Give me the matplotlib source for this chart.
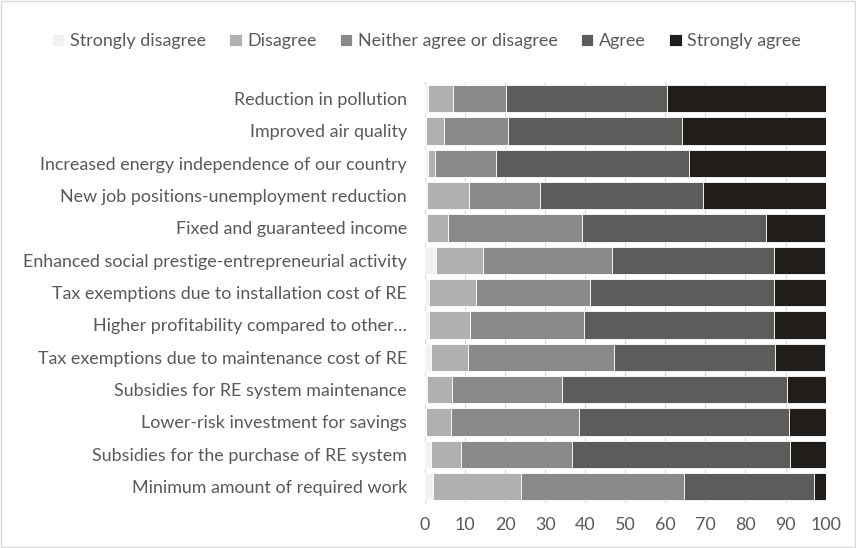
import matplotlib
matplotlib.use("Agg")
import matplotlib.pyplot as plt
import numpy as np

plt.rcParams['font.family'] = ['Lato', 'DejaVu Sans']

categories = [
    "Reduction in pollution",
    "Improved air quality",
    "Increased energy independence of our country",
    "New job positions-unemployment reduction",
    "Fixed and guaranteed income",
    "Enhanced social prestige-entrepreneurial activity",
    "Tax exemptions due to installation cost of RE",
    "Higher profitability compared to other\u2026",
    "Tax exemptions due to maintenance cost of RE",
    "Subsidies for RE system maintenance",
    "Lower-risk investment for savings",
    "Subsidies for the purchase of RE system",
    "Minimum amount of required work",
]
strongly_disagree = [0.8, 0.3, 0.8, 0.4, 0.4, 2.75, 0.9, 0.9, 1.4, 0.4, 0.25, 1.4, 1.9]
disagree = [6.1, 4.5, 1.6, 10.5, 5.3, 11.75, 11.8, 10.3, 9.3, 6.3, 6.25, 7.6, 22.1]
neither = [13.3, 15.9, 15.3, 17.8, 33.5, 32.25, 28.5, 28.6, 36.4, 27.6, 32.0, 27.75, 40.7]
agree = [40.2, 43.5, 48.2, 40.7, 46.0, 40.4, 46.0, 47.4, 40.3, 56.1, 52.25, 54.25, 32.3]
strongly_agree = [39.6, 35.8, 34.1, 30.6, 14.75, 12.8, 12.8, 12.8, 12.5, 9.6, 9.25, 9.0, 3.0]

series = [
    ("Strongly disagree", strongly_disagree, "#F2F2F2"),
    ("Disagree", disagree, "#B0B0B0"),
    ("Neither agree or disagree", neither, "#898989"),
    ("Agree", agree, "#5C5C5A"),
    ("Strongly agree", strongly_agree, "#201D1A"),
]

fig = plt.figure(figsize=(8.56, 5.48), dpi=100)
ax = fig.add_axes([0.4965, 0.0825, 0.468, 0.767])

y = np.arange(len(categories))[::-1]
left = np.zeros(len(categories))
for name, vals, col in series:
    vals = np.array(vals)
    ax.barh(y, vals, left=left, height=0.84, color=col, edgecolor="white",
            linewidth=0.6, label=name, zorder=3)
    left += vals

ax.set_xlim(0, 100)
ax.set_ylim(-0.5, len(categories) - 0.5)
ax.set_xticks(np.arange(0, 101, 10))
ax.set_yticks(y)
ax.set_yticklabels(categories)
ax.tick_params(axis="both", length=0, colors="#595959", labelsize=12.9)
ax.tick_params(axis="y", pad=13)
ax.tick_params(axis="x", pad=10)
ax.grid(axis="x", color="#D9D9D9", linewidth=0.8, zorder=0)
for s in ["top", "right", "bottom"]:
    ax.spines[s].set_visible(False)
ax.spines["left"].set_color("#D9D9D9")

leg = fig.legend(loc="center", bbox_to_anchor=(0.498, 0.925), ncol=5, frameon=False,
                 fontsize=12.9, handlelength=0.7, handleheight=0.7, handletextpad=0.3,
                 columnspacing=1.3)
for t in leg.get_texts():
    t.set_color("#595959")

fig.patches.append(plt.Rectangle((0.001, 0.001), 0.998, 0.998, transform=fig.transFigure,
                                 fill=False, edgecolor="#D9D9D9", linewidth=1))

fig.savefig("out.png", dpi=100)
